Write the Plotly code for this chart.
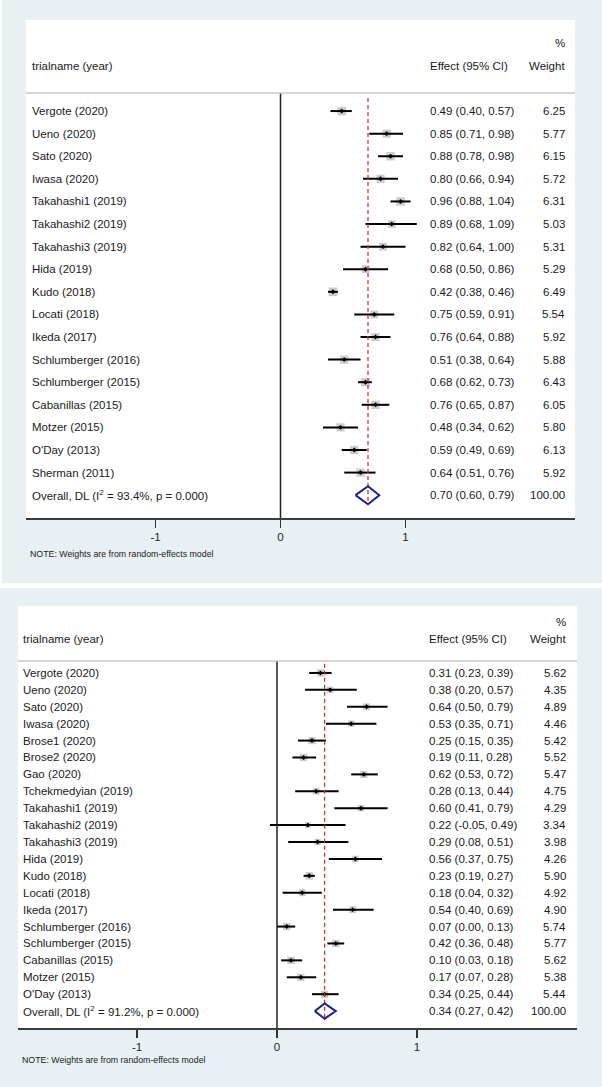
import plotly.graph_objects as go

# ---------------- data ----------------
TOP_NAMES = ["Vergote (2020)", "Ueno (2020)", "Sato (2020)", "Iwasa (2020)",
             "Takahashi1 (2019)", "Takahashi2 (2019)", "Takahashi3 (2019)",
             "Hida (2019)", "Kudo (2018)", "Locati (2018)", "Ikeda (2017)",
             "Schlumberger (2016)", "Schlumberger (2015)", "Cabanillas (2015)",
             "Motzer (2015)", "O'Day (2013)", "Sherman (2011)"]
TOP_EST = [0.49, 0.85, 0.88, 0.80, 0.96, 0.89, 0.82, 0.68, 0.42, 0.75, 0.76,
           0.51, 0.68, 0.76, 0.48, 0.59, 0.64]
TOP_LO = [0.40, 0.71, 0.78, 0.66, 0.88, 0.68, 0.64, 0.50, 0.38, 0.59, 0.64,
          0.38, 0.62, 0.65, 0.34, 0.49, 0.51]
TOP_HI = [0.57, 0.98, 0.98, 0.94, 1.04, 1.09, 1.00, 0.86, 0.46, 0.91, 0.88,
          0.64, 0.73, 0.87, 0.62, 0.69, 0.76]
TOP_WT = [6.25, 5.77, 6.15, 5.72, 6.31, 5.03, 5.31, 5.29, 6.49, 5.54, 5.92,
          5.88, 6.43, 6.05, 5.80, 6.13, 5.92]
TOP_OVERALL = [0.70, 0.60, 0.79]
TOP_I2 = "93.4%"

BOT_NAMES = ["Vergote (2020)", "Ueno (2020)", "Sato (2020)", "Iwasa (2020)",
             "Brose1 (2020)", "Brose2 (2020)", "Gao (2020)",
             "Tchekmedyian (2019)", "Takahashi1 (2019)", "Takahashi2 (2019)",
             "Takahashi3 (2019)", "Hida (2019)", "Kudo (2018)", "Locati (2018)",
             "Ikeda (2017)", "Schlumberger (2016)", "Schlumberger (2015)",
             "Cabanillas (2015)", "Motzer (2015)", "O'Day (2013)"]
BOT_EST = [0.31, 0.38, 0.64, 0.53, 0.25, 0.19, 0.62, 0.28, 0.60, 0.22, 0.29,
           0.56, 0.23, 0.18, 0.54, 0.07, 0.42, 0.10, 0.17, 0.34]
BOT_LO = [0.23, 0.20, 0.50, 0.35, 0.15, 0.11, 0.53, 0.13, 0.41, -0.05, 0.08,
          0.37, 0.19, 0.04, 0.40, 0.00, 0.36, 0.03, 0.07, 0.25]
BOT_HI = [0.39, 0.57, 0.79, 0.71, 0.35, 0.28, 0.72, 0.44, 0.79, 0.49, 0.51,
          0.75, 0.27, 0.32, 0.69, 0.13, 0.48, 0.18, 0.28, 0.44]
BOT_WT = [5.62, 4.35, 4.89, 4.46, 5.42, 5.52, 5.47, 4.75, 4.29, 3.34, 3.98,
          4.26, 5.90, 4.92, 4.90, 5.74, 5.77, 5.62, 5.38, 5.44]
BOT_OVERALL = [0.34, 0.27, 0.42]
BOT_I2 = "91.2%"

TICKS = [-1, 0, 1]
TICK_LABELS = ["-1", "0", "1"]
NOTE = "NOTE: Weights are from random-effects model"

# ---------------- style ----------------
W, H = 602, 1087
FONT = "Arial, Liberation Sans, sans-serif"
BG = "#e9f0f3"
GRAY_SQ = "#b7b7b7"
RED = "#c0392b"
NAVY = "#1f2485"


def px(x):
    return x / W


def py(y):
    return 1 - y / H


fig = go.Figure()
shapes = []
annotations = []

# panel backgrounds and white plot regions
shapes.append(dict(type="rect", xref="paper", yref="paper", x0=px(2), x1=1,
                   y0=py(583), y1=1, fillcolor=BG, line_width=0, layer="below"))
shapes.append(dict(type="rect", xref="paper", yref="paper", x0=0, x1=1,
                   y0=0, y1=py(588), fillcolor=BG, line_width=0, layer="below"))

panels = [
    dict(names=TOP_NAMES, est=TOP_EST, lo=TOP_LO, hi=TOP_HI, wt=TOP_WT,
         ov=TOP_OVERALL, i2=TOP_I2, xa="x", ya="y", xl="xaxis", yl="yaxis",
         left=26, right=575, top=20, bottom=518, xrange=[-2.036, 2.356],
         yrange=[18.01, -4.03], sep=-0.80, name_x=30, eff_x=428, wt_x=567,
         note_y=554, note_x=28, sq=3.4, dh=0.40, dtop=-0.58),
    dict(names=BOT_NAMES, est=BOT_EST, lo=BOT_LO, hi=BOT_HI, wt=BOT_WT,
         ov=BOT_OVERALL, i2=BOT_I2, xa="x2", ya="y2", xl="xaxis2", yl="yaxis2",
         left=18, right=577, top=606, bottom=1028, xrange=[-1.85, 2.143],
         yrange=[21.0, -3.96], sep=-0.71, name_x=21, eff_x=427, wt_x=568,
         note_y=1060, note_x=20, sq=3.1, dh=0.45, dtop=-0.55),
]

for p in panels:
    shapes.append(dict(type="rect", xref="paper", yref="paper",
                       x0=px(p["left"]), x1=px(p["right"]),
                       y0=py(p["bottom"]), y1=py(p["top"]),
                       fillcolor="white", line_width=0, layer="below"))

for p in panels:
    n = len(p["names"])
    rows = list(range(n))
    xa, ya = p["xa"], p["ya"]
    ybot = p["yrange"][0]

    # header separator
    shapes.append(dict(type="line", xref=f"{xa} domain", yref=ya, x0=0, x1=1,
                       y0=p["sep"], y1=p["sep"],
                       line=dict(color="#c9c9c9", width=1.6)))

    # zero line
    fig.add_trace(go.Scatter(x=[0, 0], y=[p["sep"], ybot], mode="lines",
                             line=dict(color="#222222", width=1.5),
                             xaxis=xa, yaxis=ya, hoverinfo="skip"))

    # weight squares
    fig.add_trace(go.Scatter(x=p["est"], y=rows, mode="markers",
                             marker=dict(symbol="square", color=GRAY_SQ,
                                         size=[p["sq"] * w ** 0.5 for w in p["wt"]],
                                         line=dict(width=0)),
                             xaxis=xa, yaxis=ya, hoverinfo="skip"))

    # CI lines
    cx, cy = [], []
    for i in rows:
        cx += [p["lo"][i], p["hi"][i], None]
        cy += [i, i, None]
    fig.add_trace(go.Scatter(x=cx, y=cy, mode="lines",
                             line=dict(color="black", width=2),
                             xaxis=xa, yaxis=ya, hoverinfo="skip"))

    # point estimates
    fig.add_trace(go.Scatter(x=p["est"], y=rows, mode="markers",
                             marker=dict(symbol="diamond", color="black", size=3.8,
                                         line=dict(width=0)),
                             xaxis=xa, yaxis=ya, hoverinfo="skip"))

    # overall line (dashed)
    ov, olo, ohi = p["ov"]
    fig.add_trace(go.Scatter(x=[ov, ov], y=[p["dtop"], n + p["dh"]], mode="lines",
                             line=dict(color=RED, width=1.3, dash="4px,3px"),
                             xaxis=xa, yaxis=ya, hoverinfo="skip"))

    # overall diamond
    fig.add_trace(go.Scatter(x=[olo, ov, ohi, ov, olo],
                             y=[n, n - p["dh"], n, n + p["dh"], n], mode="lines",
                             line=dict(color=NAVY, width=2),
                             xaxis=xa, yaxis=ya, hoverinfo="skip"))

    # axes
    fig.update_layout(**{
        p["xl"]: dict(domain=[px(p["left"]), px(p["right"])], range=p["xrange"],
                      anchor=ya, showgrid=False, zeroline=False,
                      showline=True, linecolor="#3c3c3c", linewidth=1.6,
                      ticks="outside", ticklen=8, tickwidth=1.3, tickcolor="#333333",
                      tickvals=TICKS, ticktext=TICK_LABELS,
                      tickfont=dict(family=FONT, size=11.5, color="#222222"),
                      fixedrange=True),
        p["yl"]: dict(domain=[py(p["bottom"]), py(p["top"])], range=p["yrange"],
                      anchor=xa, visible=False, showgrid=False, zeroline=False,
                      fixedrange=True),
    })

    tf = dict(family=FONT, size=11.5, color="#1a1a1a")
    # headers
    annotations.append(dict(xref="paper", yref=ya, x=px(p["name_x"]), y=-2,
                            text="trialname (year)", showarrow=False,
                            xanchor="left", yanchor="middle", font=tf))
    annotations.append(dict(xref="paper", yref=ya, x=px(p["eff_x"]), y=-2,
                            text="Effect (95% CI)", showarrow=False,
                            xanchor="left", yanchor="middle", font=tf))
    annotations.append(dict(xref="paper", yref=ya, x=px(p["wt_x"]), y=-2,
                            text="Weight", showarrow=False,
                            xanchor="right", yanchor="middle", font=tf))
    annotations.append(dict(xref="paper", yref=ya, x=px(p["wt_x"]), y=-3,
                            text="%", showarrow=False,
                            xanchor="right", yanchor="middle", font=tf))

    labels = p["names"] + [f"Overall, DL (I<sup>2</sup> = {p['i2']}, p = 0.000)"]
    effs = [f"{e:.2f} ({l:.2f}, {h:.2f})" for e, l, h in zip(p["est"], p["lo"], p["hi"])]
    effs.append(f"{ov:.2f} ({olo:.2f}, {ohi:.2f})")
    wts = [f"{w:.2f}" for w in p["wt"]] + ["100.00"]
    for i, (lab, ef, wt) in enumerate(zip(labels, effs, wts)):
        annotations.append(dict(xref="paper", yref=ya, x=px(p["name_x"]), y=i,
                                text=lab, showarrow=False, xanchor="left",
                                yanchor="middle", font=tf))
        annotations.append(dict(xref="paper", yref=ya, x=px(p["eff_x"]), y=i,
                                text=ef, showarrow=False, xanchor="left",
                                yanchor="middle", font=tf))
        annotations.append(dict(xref="paper", yref=ya, x=px(p["wt_x"]), y=i,
                                text=wt, showarrow=False, xanchor="right",
                                yanchor="middle", font=tf))

    annotations.append(dict(xref="paper", yref="paper", x=px(p["note_x"]),
                            y=py(p["note_y"]), text=NOTE, showarrow=False,
                            xanchor="left", yanchor="middle",
                            font=dict(family=FONT, size=8.8, color="#1a1a1a")))

fig.update_layout(width=W, height=H, margin=dict(l=0, r=0, t=0, b=0),
                  paper_bgcolor="white", plot_bgcolor="rgba(0,0,0,0)",
                  showlegend=False, shapes=shapes, annotations=annotations)

fig.write_html(
    "out.html",
    config={"displayModeBar": False, "staticPlot": True},
    post_script=("document.body.style.margin='0';"
                 "document.body.style.padding='0';"
                 "document.documentElement.style.overflow='hidden';"),
)
